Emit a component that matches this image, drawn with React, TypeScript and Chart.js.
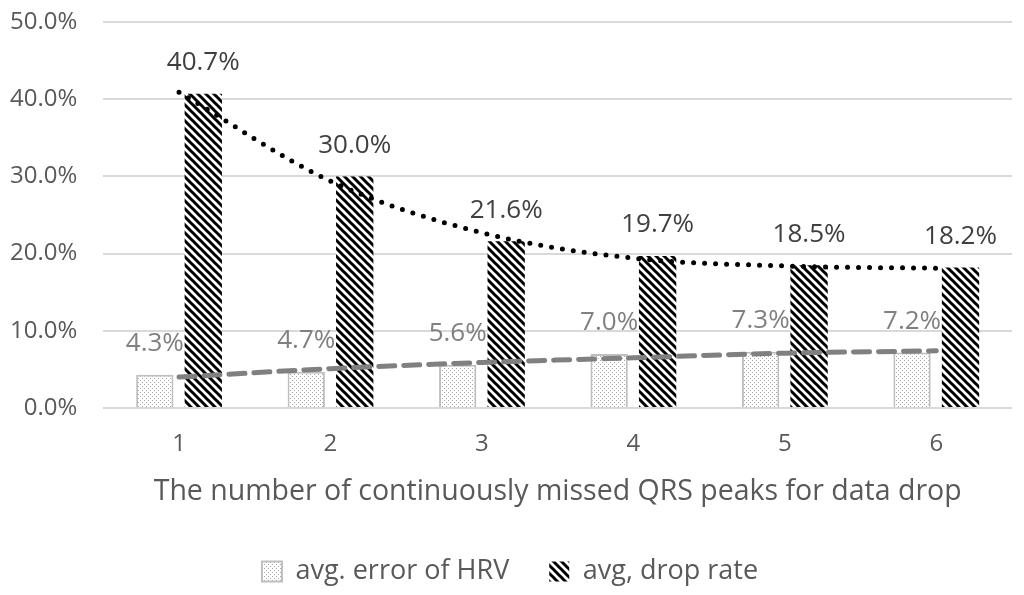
import React, { useEffect, useRef } from "react";
import { Chart, registerables } from "chart.js";

Chart.register(...registerables);

const categories = ["1", "2", "3", "4", "5", "6"];
const hrvError = [4.3, 4.7, 5.6, 7.0, 7.3, 7.2];
const dropRate = [40.7, 30.0, 21.6, 19.7, 18.5, 18.2];
const dropTrend = [40.9, 29.4, 22.7, 19.4, 18.4, 18.1];
const hrvTrend = [4.0, 5.1, 5.9, 6.5, 7.1, 7.4];
const yTicks = [0, 10, 20, 30, 40, 50];
const seriesNames = ["avg. error of HRV", "avg, drop rate"];
const xTitle = "The number of continuously missed QRS peaks for data drop";

const FONT = "'Open Sans', sans-serif";

function makeHatch(): CanvasPattern | string {
  const c = document.createElement("canvas");
  c.width = 8;
  c.height = 8;
  const g = c.getContext("2d");
  if (!g) return "#000";
  g.fillStyle = "#ffffff";
  g.fillRect(0, 0, 8, 8);
  g.strokeStyle = "#000000";
  g.lineWidth = 3;
  g.beginPath();
  g.moveTo(-2, -2);
  g.lineTo(10, 10);
  g.moveTo(-2, 6);
  g.lineTo(2, 10);
  g.moveTo(6, -2);
  g.lineTo(10, 2);
  g.stroke();
  return g.createPattern(c, "repeat") || "#000";
}

function makeDots(): CanvasPattern | string {
  const c = document.createElement("canvas");
  c.width = 4;
  c.height = 4;
  const g = c.getContext("2d");
  if (!g) return "#eee";
  g.fillStyle = "#ffffff";
  g.fillRect(0, 0, 4, 4);
  g.fillStyle = "#a6a6a6";
  g.fillRect(0, 0, 1, 1);
  g.fillRect(2, 2, 1, 1);
  return g.createPattern(c, "repeat") || "#eee";
}

const labelColors = ["#808080", "#404040"];

const barLabelPlugin = {
  id: "barLabels",
  afterDatasetsDraw(chart: any) {
    const ctx = chart.ctx;
    ctx.save();
    ctx.font = `26px ${FONT}`;
    ctx.textAlign = "center";
    ctx.textBaseline = "middle";
    [0, 1].forEach((di) => {
      const meta = chart.getDatasetMeta(di);
      const ds = chart.data.datasets[di];
      ctx.fillStyle = labelColors[di];
      meta.data.forEach((el: any, j: number) => {
        const v = ds.data[j] as number;
        ctx.fillText(v.toFixed(1) + "%", el.x, el.y - 31);
      });
    });
    ctx.restore();
  },
};

export default function App() {
  const ref = useRef<HTMLCanvasElement | null>(null);

  useEffect(() => {
    if (!ref.current) return;
    Chart.defaults.font.family = FONT;
    const dots = makeDots();
    const hatch = makeHatch();
    const chart = new Chart(ref.current, {
      type: "bar",
      data: {
        labels: categories,
        datasets: [
          {
            type: "bar",
            label: seriesNames[0],
            data: hrvError,
            backgroundColor: dots as any,
            borderColor: "#bfbfbf",
            borderWidth: 2,
            barPercentage: 0.77,
            categoryPercentage: 0.64,
            order: 2,
          },
          {
            type: "bar",
            label: seriesNames[1],
            data: dropRate,
            backgroundColor: hatch as any,
            borderWidth: 0,
            barPercentage: 0.77,
            categoryPercentage: 0.64,
            order: 2,
          },
          {
            type: "line",
            label: "trend drop",
            data: dropTrend,
            borderColor: "#000000",
            borderWidth: 5,
            borderDash: [0, 11],
            borderCapStyle: "round",
            pointRadius: 0,
            fill: false,
            cubicInterpolationMode: "monotone",
            order: 1,
          },
          {
            type: "line",
            label: "trend hrv",
            data: hrvTrend,
            borderColor: "#808080",
            borderWidth: 5,
            borderDash: [16, 9],
            borderCapStyle: "round",
            pointRadius: 0,
            fill: false,
            cubicInterpolationMode: "monotone",
            order: 1,
          },
        ],
      },
      options: {
        responsive: false,
        animation: false,
        layout: { padding: { left: 8, right: 12, top: 22, bottom: 0 } },
        plugins: {
          tooltip: { enabled: false },
          legend: {
            position: "bottom",
            labels: {
              filter: (item: any) => item.datasetIndex < 2,
              boxWidth: 20,
              boxHeight: 20,
              padding: 40,
              color: "#595959",
              font: { size: 27, family: FONT },
            },
          },
        },
        scales: {
          x: {
            grid: { display: false, drawTicks: false },
            border: { display: false },
            ticks: { color: "#595959", font: { size: 24 }, padding: 22 },
            title: {
              display: true,
              text: xTitle,
              color: "#595959",
              font: { size: 28.5 },
              padding: { top: -6, bottom: 9 },
            },
          },
          y: {
            min: 0,
            max: 50,
            afterBuildTicks: (axis: any) => {
              axis.ticks = yTicks.map((v) => ({ value: v }));
            },
            grid: {
              color: "#d9d9d9",
              lineWidth: 2,
              drawTicks: true,
              tickLength: 24,
              tickColor: "rgba(0,0,0,0)",
            },
            border: { display: false },
            ticks: {
              color: "#595959",
              font: { size: 24 },
              padding: 2,
              callback: (v: any) => Number(v).toFixed(1) + "%",
            },
          },
        },
      },
      plugins: [barLabelPlugin],
    });
    return () => chart.destroy();
  }, []);

  return (
    <div style={{ position: "absolute", left: 0, top: 0, width: 1024, height: 595, background: "#fff" }}>
      <canvas ref={ref} width={1024} height={595} style={{ width: 1024, height: 595 }} />
    </div>
  );
}
